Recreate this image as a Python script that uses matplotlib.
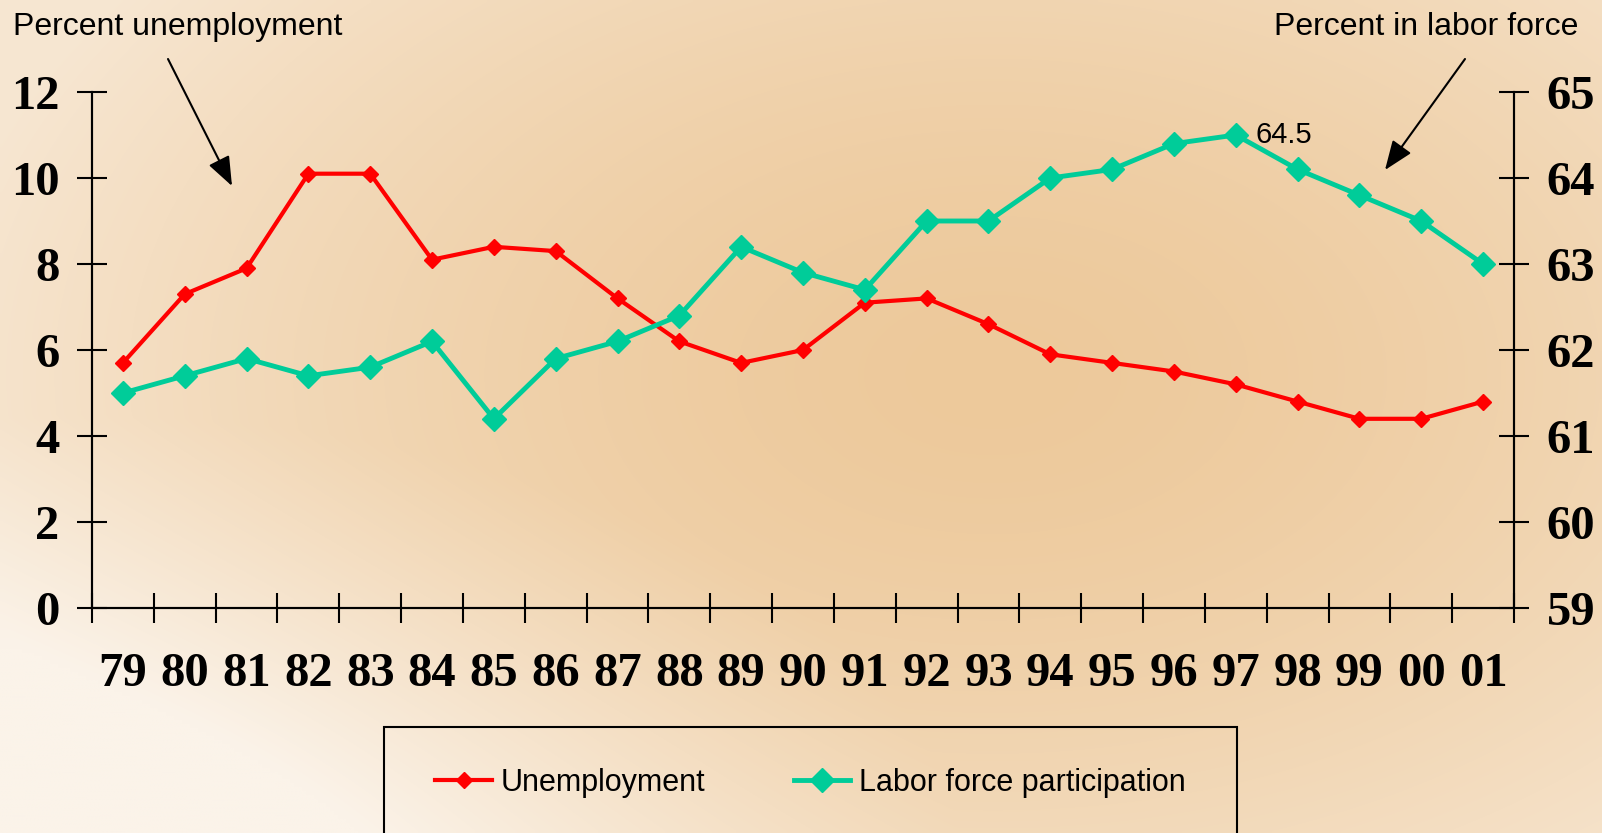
import numpy as np
import matplotlib
matplotlib.use("Agg")
import matplotlib.pyplot as plt
from matplotlib.patches import Rectangle, FancyArrowPatch

years = ["79", "80", "81", "82", "83", "84", "85", "86", "87", "88", "89", "90",
         "91", "92", "93", "94", "95", "96", "97", "98", "99", "00", "01"]
unemployment = [5.7, 7.3, 7.9, 10.1, 10.1, 8.1, 8.4, 8.3, 7.2, 6.2, 5.7, 6.0,
                7.1, 7.2, 6.6, 5.9, 5.7, 5.5, 5.2, 4.8, 4.4, 4.4, 4.8]
participation = [61.5, 61.7, 61.9, 61.7, 61.8, 62.1, 61.2, 61.9, 62.1, 62.4, 63.2, 62.9,
                 62.7, 63.5, 63.5, 64.0, 64.1, 64.4, 64.5, 64.1, 63.8, 63.5, 63.0]
left_ticks = [0, 2, 4, 6, 8, 10, 12]
right_ticks = [59, 60, 61, 62, 63, 64, 65]

RED = "#FF0000"
TEAL = "#00CC99"
SERIF = "Liberation Serif"
SANS = "Liberation Sans"

W, H = 1602, 833
fig = plt.figure(figsize=(W / 100, H / 100), dpi=100)

# peach backdrop, lighter toward the lower left and the top right
bg = fig.add_axes([0, 0, 1, 1], zorder=-10)
gx, gy = np.meshgrid(np.linspace(0, 1, 400), np.linspace(1, 0, 210))
base = np.array([237, 201, 155]) / 255
light = np.array([251, 243, 233]) / 255
d1 = np.clip(np.hypot((gx - 0.62) * 1.2, (gy - 0.55) * 1.0) / 0.8, 0, 1) ** 1.6
d2 = np.clip(1 - np.hypot(gx - 0.05, gy + 0.05) / 0.55, 0, 1)
t = np.clip(d1 * 0.7 + d2 * 0.6, 0, 1)[..., None]
bg.imshow(base + (light - base) * t, aspect="auto", extent=(0, 1, 0, 1), interpolation="bilinear")
bg.axis("off")

ax = fig.add_axes([92 / W, 1 - 608 / H, (1514 - 92) / W, (608 - 92) / H])
ax.patch.set_alpha(0)
ax2 = ax.twinx()
ax2.patch.set_alpha(0)

x = np.arange(len(years))
l1, = ax.plot(x, unemployment, color=RED, lw=3, marker="D", ms=8.5, zorder=5,
              label="Unemployment")
l2, = ax2.plot(x, participation, color=TEAL, lw=3.5, marker="D", ms=12, zorder=4,
               label="Labor force participation")

ax.set_xlim(-0.5, len(years) - 0.5)
ax.set_ylim(0, 12)
ax2.set_ylim(59, 65)

for a in (ax, ax2):
    a.spines["top"].set_visible(False)
    for s in ("left", "right", "bottom"):
        a.spines[s].set_linewidth(1.5)

ax.set_yticks(left_ticks)
ax2.set_yticks(right_ticks)
ax.set_xticks(np.arange(len(years) + 1) - 0.5)
ax.set_xticklabels([])
ax.set_xticks(x, minor=True)
ax.set_xticklabels(years, minor=True)

ax.tick_params(axis="y", direction="inout", length=21, width=1.5, pad=13, labelsize=35)
ax2.tick_params(axis="y", direction="inout", length=21, width=1.5, pad=13, labelsize=35)
ax.tick_params(axis="x", which="major", direction="inout", length=21, width=1.5)
ax.tick_params(axis="x", which="minor", length=0, pad=32, labelsize=35)
for lab in ax.get_yticklabels() + ax2.get_yticklabels() + ax.get_xticklabels(minor=True):
    lab.set_fontfamily(SERIF)
    lab.set_fontweight("bold")

ax2.annotate("64.5", xy=(18, 64.5), xytext=(14, 0), textcoords="offset points",
             va="center", ha="left", fontsize=21, family=SANS)

fig.text(13 / W, 1 - 27 / H, "Percent unemployment", fontsize=23, family=SANS, va="center", ha="left")
fig.text(1578 / W, 1 - 27 / H, "Percent in labor force", fontsize=23, family=SANS, va="center", ha="right")

for (x0, y0), (x1, y1) in [((168, 59), (232, 186)), ((1465, 59), (1385, 170))]:
    fig.add_artist(FancyArrowPatch((x0 / W, 1 - y0 / H), (x1 / W, 1 - y1 / H),
                                   transform=fig.transFigure, arrowstyle="-|>,head_length=1.8,head_width=0.7",
                                   mutation_scale=10, lw=1.5, color="black", shrinkA=0, shrinkB=0))

# legend box runs off the bottom edge
fig.add_artist(Rectangle((384 / W, -0.05), (1237 - 384) / W, 0.05 + 1 - 727 / H,
                         transform=fig.transFigure, fill=False, ec="black", lw=1.5))
fig.legend(handles=[l1, l2], loc="center left", bbox_to_anchor=(420 / W, 1 - 783 / H),
           ncol=2, frameon=False, borderpad=0, handlelength=1.85, handletextpad=0.28,
           columnspacing=2.9, prop={"family": SANS, "size": 22})

fig.savefig("out.png", dpi=100)
